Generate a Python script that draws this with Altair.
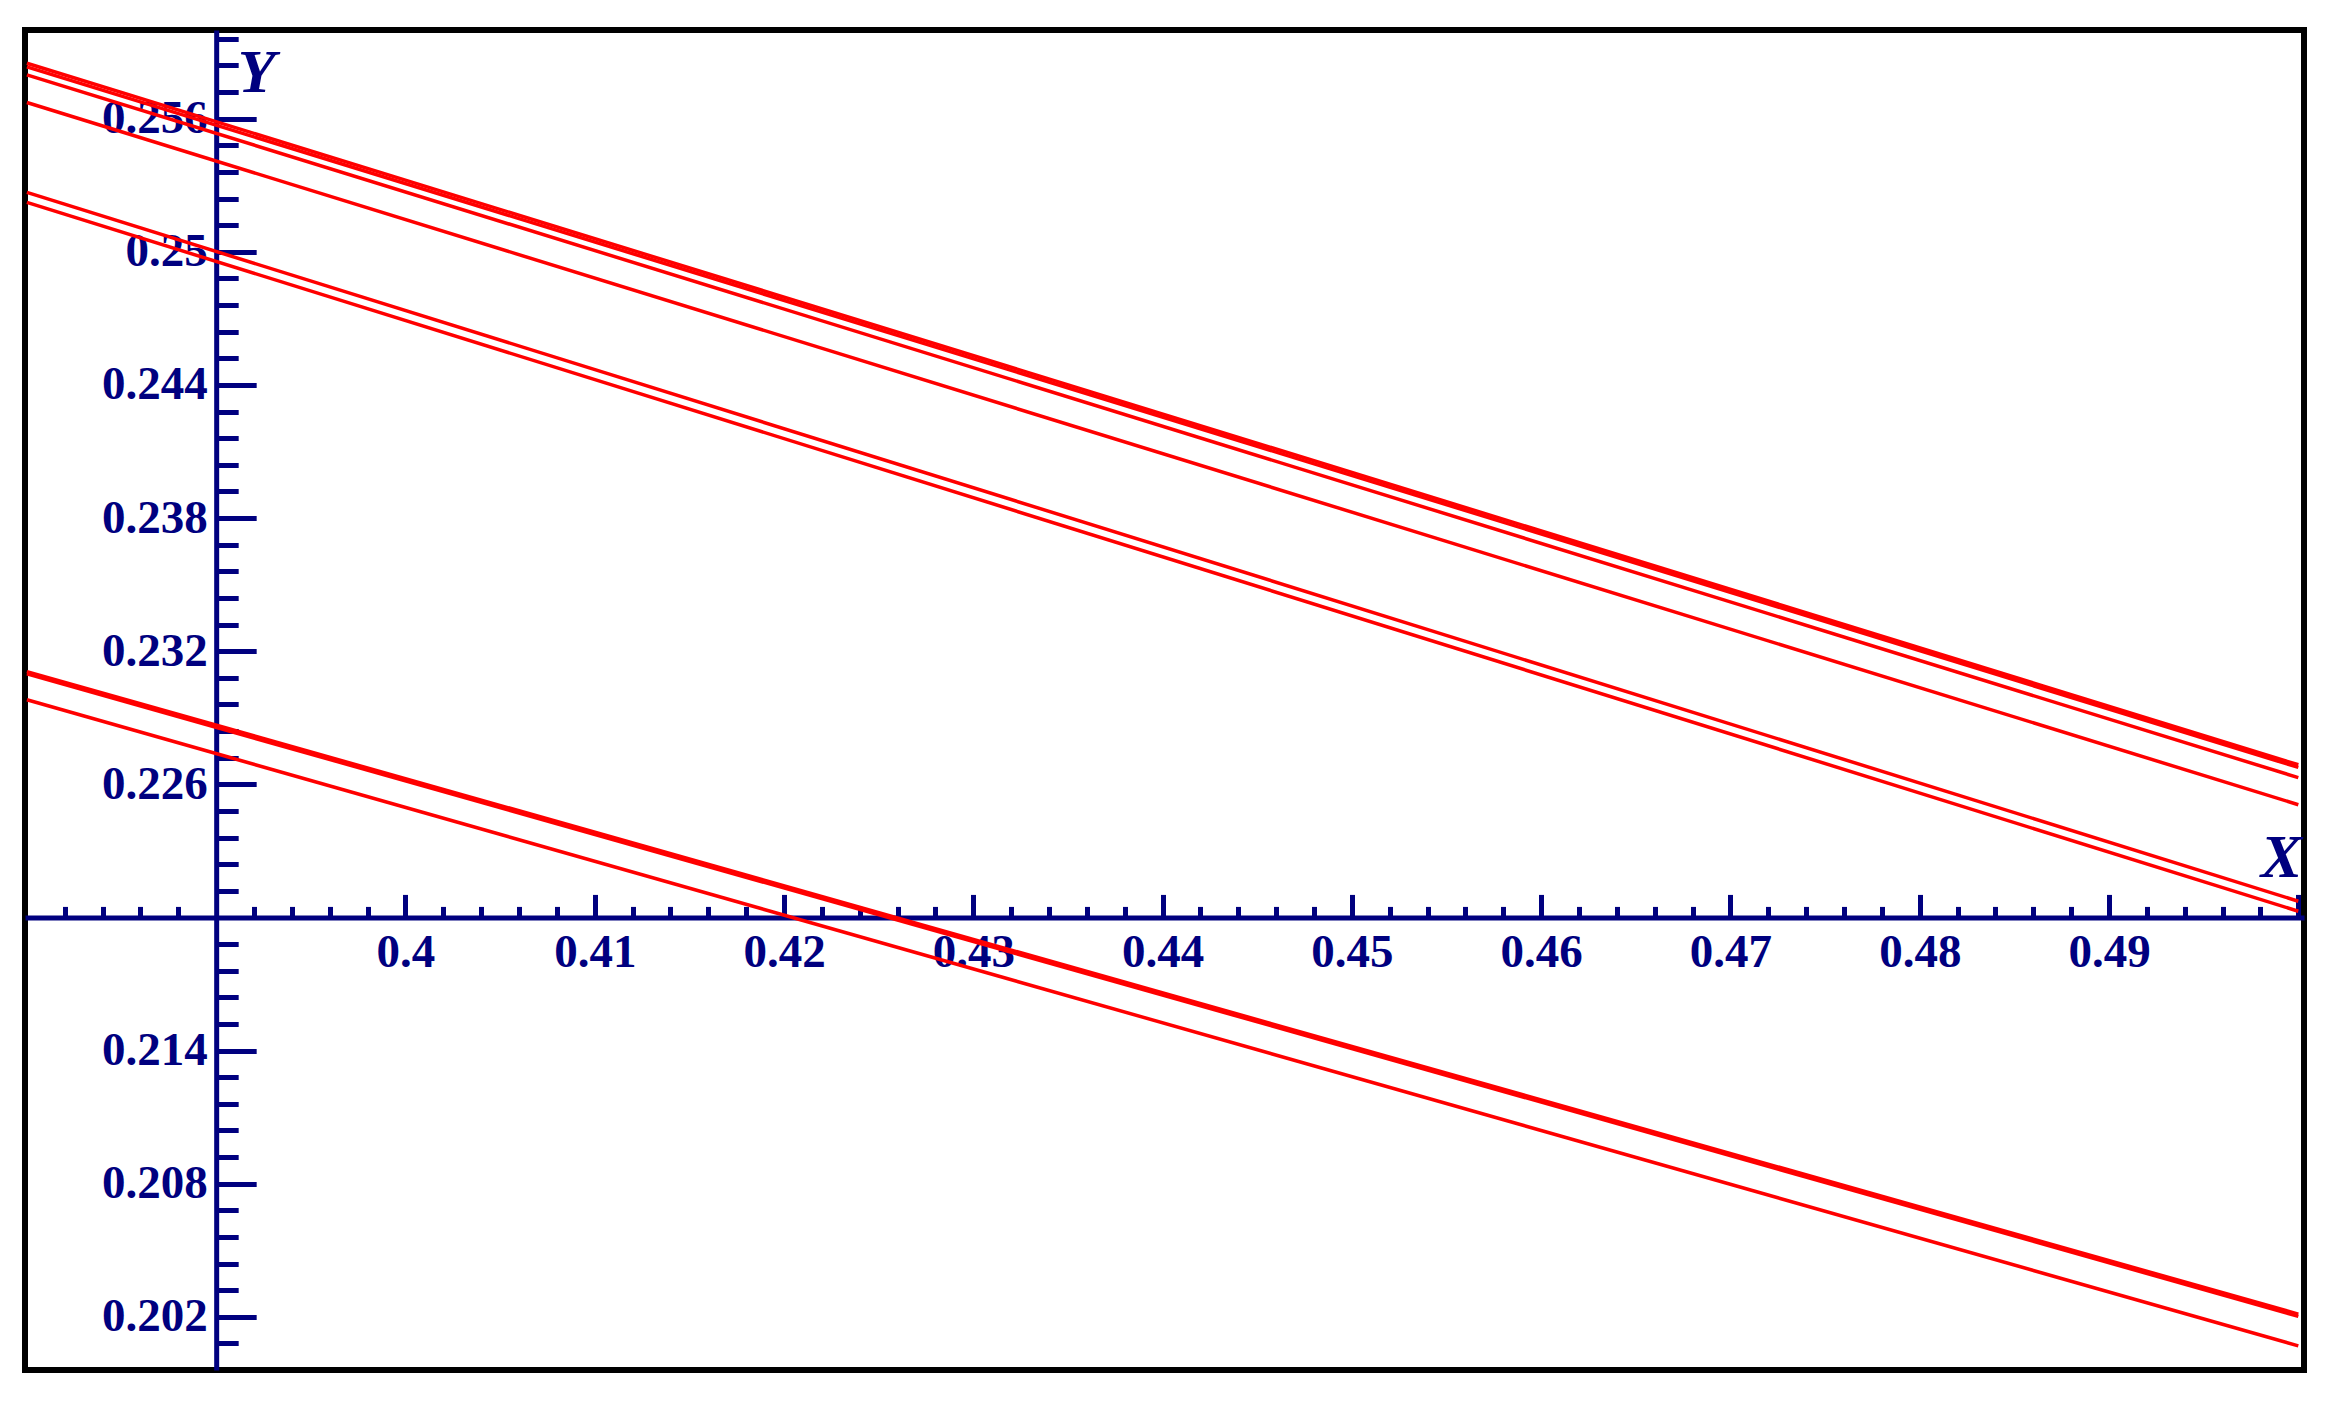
import altair as alt
import pandas as pd

# ---- data ----
x_ends = [0.38, 0.5]
line_ids = ["A1", "A2", "B", "C", "D", "E", "F1", "F2", "G"]
y_at_start = [0.25850, 0.25834, 0.25798, 0.25673, 0.25268, 0.25223, 0.23108, 0.23098, 0.22981]
y_at_end = [0.22688, 0.22676, 0.22630, 0.22508, 0.22073, 0.22028, 0.20212, 0.20202, 0.20069]

x_label_values = [0.4, 0.41, 0.42, 0.43, 0.44, 0.45, 0.46, 0.47, 0.48, 0.49]
x_major_ticks = [0.4, 0.41, 0.42, 0.43, 0.44, 0.45, 0.46, 0.47, 0.48, 0.49, 0.5]
x_minor_ticks = [0.382, 0.384, 0.386, 0.388, 0.392, 0.394, 0.396, 0.398,
                 0.402, 0.404, 0.406, 0.408, 0.412, 0.414, 0.416, 0.418,
                 0.422, 0.424, 0.426, 0.428, 0.432, 0.434, 0.436, 0.438,
                 0.442, 0.444, 0.446, 0.448, 0.452, 0.454, 0.456, 0.458,
                 0.462, 0.464, 0.466, 0.468, 0.472, 0.474, 0.476, 0.478,
                 0.482, 0.484, 0.486, 0.488, 0.492, 0.494, 0.496, 0.498]
y_label_values = [0.202, 0.208, 0.214, 0.226, 0.232, 0.238, 0.244, 0.25, 0.256]
y_major_ticks = [0.202, 0.208, 0.214, 0.226, 0.232, 0.238, 0.244, 0.25, 0.256]
y_minor_ticks = [0.2008, 0.2032, 0.2044, 0.2056, 0.2068, 0.2092, 0.2104, 0.2116,
                 0.2128, 0.2152, 0.2164, 0.2176, 0.2188, 0.2212, 0.2224, 0.2236,
                 0.2248, 0.2272, 0.2284, 0.2296, 0.2308, 0.2332, 0.2344, 0.2356,
                 0.2368, 0.2392, 0.2404, 0.2416, 0.2428, 0.2452, 0.2464, 0.2476,
                 0.2488, 0.2512, 0.2524, 0.2536, 0.2548, 0.2572, 0.2584, 0.2596]

rows = []
for i, lid in enumerate(line_ids):
    rows.append({"line": lid, "x": x_ends[0], "y": y_at_start[i]})
    rows.append({"line": lid, "x": x_ends[1], "y": y_at_end[i]})
df = pd.DataFrame(rows)

# ---- layout ----
W, H = 2279, 1340
x_dom = [0.3799, 0.5003]
y_dom = [0.1996, 0.26]
x_origin, y_origin = 0.39, 0.22
px_origin = (x_origin - x_dom[0]) / (x_dom[1] - x_dom[0]) * W
py_origin = (y_dom[1] - y_origin) / (y_dom[1] - y_dom[0]) * H

NAVY = "#00007f"
FONT = "Liberation Serif"

xs = alt.Scale(domain=x_dom, nice=False, zero=False)
ys = alt.Scale(domain=y_dom, nice=False, zero=False)

common = dict(grid=False, domainColor=NAVY, tickColor=NAVY, labelColor=NAVY,
              domainWidth=5, tickWidth=5, labelFont=FONT, labelFontSize=47,
              labelFontWeight="bold", labelOverlap=False, labelFlush=False,
              titleColor=NAVY, titleFont=FONT, titleFontSize=62,
              titleFontWeight="bold", titleFontStyle="italic")

x_major_axis = alt.Axis(orient="top", offset=-py_origin, values=x_major_ticks,
                        labels=False, tickSize=23, title="X", titleAngle=0,
                        titleX=2256, titleY=-60, titleAlign="center",
                        titleBaseline="middle", **common)
y_major_axis = alt.Axis(orient="right", offset=-(W - px_origin), values=y_major_ticks,
                        labels=False, tickSize=40, title="Y", titleAngle=0,
                        titleX=40, titleY=42, titleAlign="center",
                        titleBaseline="middle", **common)
x_minor_axis = alt.Axis(orient="top", offset=-py_origin, values=x_minor_ticks,
                        labels=False, domain=False, tickSize=11, title=None, **common)
y_minor_axis = alt.Axis(orient="right", offset=-(W - px_origin), values=y_minor_ticks,
                        labels=False, domain=False, tickSize=22, title=None, **common)
x_label_axis = alt.Axis(orient="bottom", offset=-(H - py_origin), values=x_label_values,
                        ticks=False, domain=False, tickSize=0, labelPadding=12,
                        format="~g", title=None, **common)
y_label_axis = alt.Axis(orient="left", offset=-px_origin, values=y_label_values,
                        ticks=False, domain=False, tickSize=0, labelPadding=9,
                        format="~g", title=None, **common)

lines = alt.Chart(df).mark_line(color="#ff0000", strokeWidth=3.5).encode(
    x=alt.X("x:Q", scale=xs, axis=x_major_axis),
    y=alt.Y("y:Q", scale=ys, axis=y_major_axis),
    detail="line:N",
)
minor = alt.Chart(df).mark_line(opacity=0).encode(
    x=alt.X("x:Q", scale=xs, axis=x_minor_axis),
    y=alt.Y("y:Q", scale=ys, axis=y_minor_axis),
    detail="line:N",
)
labels = alt.Chart(df).mark_line(opacity=0).encode(
    x=alt.X("x:Q", scale=xs, axis=x_label_axis),
    y=alt.Y("y:Q", scale=ys, axis=y_label_axis),
    detail="line:N",
)

chart = alt.layer(labels, minor, lines).resolve_axis(
    x="independent", y="independent"
).properties(
    width=W, height=H,
    autosize=alt.AutoSizeParams(type="none"),
    padding={"left": 17, "top": 22, "right": 10, "bottom": 10},
    background="white",
).configure_view(stroke="black", strokeWidth=6)

chart.save("out.html", embed_options={"renderer": "svg", "actions": False})
